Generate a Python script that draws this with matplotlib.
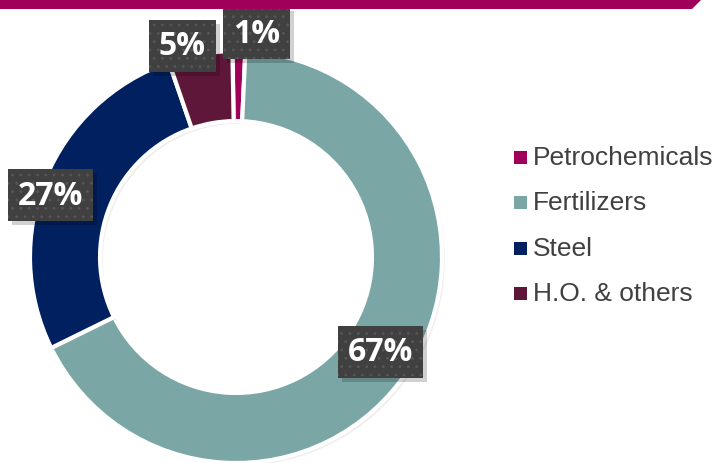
import matplotlib.pyplot as plt
import matplotlib.patheffects as pe
from matplotlib.patches import Rectangle, Polygon

# Share of consumption by segment (%)
categories = ['Petrochemicals', 'Fertilizers', 'Steel', 'H.O. & others']
shares = [1, 67, 27, 5]
colors = ['#A0005A', '#7BA6A6', '#002060', '#5E1739']

# where each percentage box sits (axes data units, ring radius = 1)
label_pos = [(0.10, 1.085), (0.70, -0.46), (-0.90, 0.30), (-0.26, 1.025)]

W, H = 718, 464
fig = plt.figure(figsize=(W / 100, H / 100), dpi=100)
fig.patch.set_facecolor('white')

# magenta banner along the top edge
fig.patches.append(Polygon([(0, 1), (702 / W, 1), (692 / W, 1 - 10 / H), (0, 1 - 10 / H)],
                           closed=True, transform=fig.transFigure,
                           facecolor='#A0005A', edgecolor='none'))

cx, cy, R = 236, 258, 206
ax = fig.add_axes([(cx - R) / W, (H - cy - R) / H, 2 * R / W, 2 * R / H])
ax.set_aspect('equal')
ax.axis('off')

wedges, _ = ax.pie(shares, colors=colors, startangle=91, counterclock=False,
                   radius=1, wedgeprops=dict(width=0.34, edgecolor='white', linewidth=3))
for w in wedges:
    w.set_path_effects([pe.SimplePatchShadow(offset=(2, -2), shadow_rgbFace='#aaaaaa', alpha=0.2),
                        pe.Normal()])
ax.set_xlim(-1, 1)
ax.set_ylim(-1, 1)

# percentage labels in dotted dark boxes
plt.rcParams['hatch.linewidth'] = 0.8
labels = []
for val, (x, y) in zip(shares, label_pos):
    t = ax.text(x, y, f'{val}%', ha='center', va='center', color='white', zorder=6,
                fontsize=23, fontweight='bold', family=['Open Sans', 'DejaVu Sans'])
    labels.append(t)

fig.canvas.draw()
renderer = fig.canvas.get_renderer()
inv = fig.transFigure.inverted()
for t in labels:
    ext = t.get_window_extent(renderer)
    bw, bh = ext.width + 20, 52
    x0, y0 = ext.x0 - 10, (ext.y0 + ext.y1) / 2 - bh / 2
    (fx0, fy0), (fx1, fy1) = inv.transform([(x0, y0), (x0 + bw, y0 + bh)])
    (sx0, sy0), _ = inv.transform([(x0 + 4, y0 - 4), (0, 0)])
    ax.add_patch(Rectangle((sx0, sy0), fx1 - fx0, fy1 - fy0, transform=fig.transFigure,
                           facecolor='black', alpha=0.18, edgecolor='none', zorder=4,
                           clip_on=False))
    ax.add_patch(Rectangle((fx0, fy0), fx1 - fx0, fy1 - fy0, transform=fig.transFigure,
                           facecolor='#404040', edgecolor='#575757', linewidth=0,
                           hatch='..', zorder=5, clip_on=False))

# legend on the right
for i, (name, c) in enumerate(zip(categories, colors)):
    y = 158 + i * 45.5
    fig.patches.append(Rectangle((514 / W, 1 - (y + 6.5) / H), 13 / W, 13 / H,
                                 transform=fig.transFigure, facecolor=c, edgecolor='none'))
    fig.text(533 / W, 1 - y / H, name, ha='left', va='center', fontsize=19,
             color='#404040', family='Liberation Sans')

fig.savefig('out.png', dpi=100)
